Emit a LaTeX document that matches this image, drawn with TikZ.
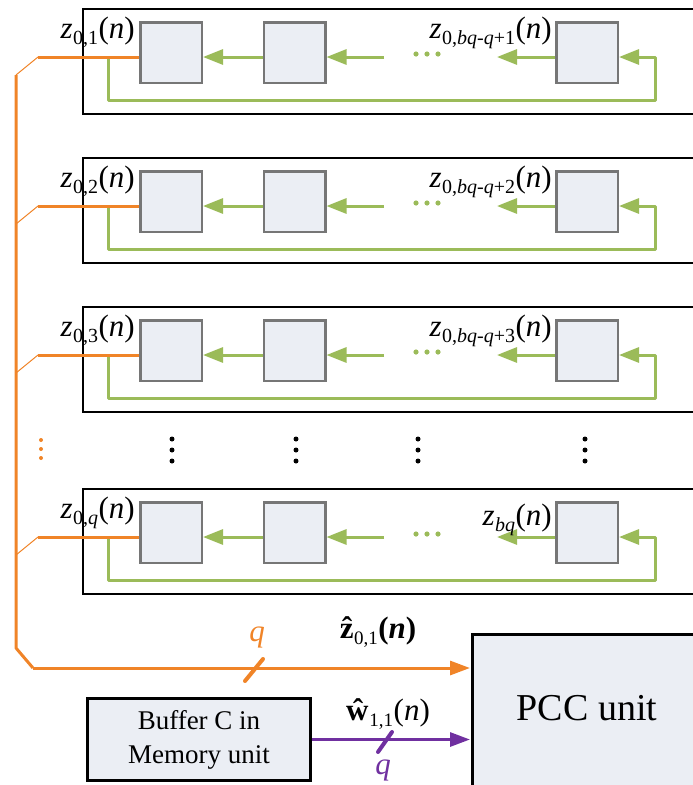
\documentclass[tikz,border=0pt]{standalone}
\usepackage{fontspec}
\setmainfont{Liberation Serif}
\usetikzlibrary{arrows.meta}

\definecolor{busorange}{RGB}{240,132,40}
\definecolor{loopgreen}{RGB}{155,187,89}
\definecolor{wpurple}{RGB}{112,48,160}
\definecolor{cellfill}{RGB}{235,238,244}
\definecolor{cellgray}{RGB}{118,118,118}

\tikzset{
  cell/.style={draw=cellgray, line width=2.5pt, fill=cellfill,
    minimum width=61.5pt, minimum height=60.5pt, inner sep=0pt},
  frame/.style={draw=black, line width=1.1pt},
  gline/.style={draw=loopgreen, line width=3pt, line join=round},
  garrow/.style={gline, -{Triangle[length=20pt,width=15pt]}},
  obus/.style={draw=busorange, line width=3pt, line join=round},
  otap/.style={draw=busorange, line width=1pt},
  oarrow/.style={obus, -{Triangle[length=20pt,width=14pt]}},
  parrow/.style={draw=wpurple, line width=3pt, -{Triangle[length=20pt,width=14pt]}},
  unitbox/.style={draw=black, line width=3pt, fill=cellfill, inner sep=0pt},
  lab/.style={inner sep=0pt, font=\fontsize{31}{33}\selectfont},
}

% z with a subscript and (n)
\newcommand\zlab[1]{\textit{z}\kern0.5pt\raisebox{-6pt}{\fontsize{20}{20}\selectfont #1}\kern0.5pt(\textit{n})}

% one register row: #1 id, #2 top of frame, #3 left subscript,
% #4 right subscript, #5 baseline offset of the right label
\newcommand\cellrow[5]{%
  \draw[frame] (83,#2) rectangle (720,#2+105);
  \coordinate (s#1) at (0,#2+48);
  \node[cell] (c#1a) at (171,#2+43.5) {};
  \node[cell] (c#1b) at (294.5,#2+43.5) {};
  \node[cell] (c#1c) at (587,#2+43.5) {};
  \coordinate (g#1) at (384,#2+48);
  % shift arrows
  \draw[garrow] (c#1b.west |- s#1) -- (c#1a.east |- s#1);
  \draw[garrow] (g#1) -- (c#1b.east |- s#1);
  \draw[garrow] (c#1c.west |- s#1) -- (497,#2+48);
  \foreach \dx in {416,427,438} \fill[loopgreen] (\dx,#2+45) circle (2.6pt);
  % feedback loop
  \coordinate (fb#1) at (108,#2+48);
  \draw[garrow] (fb#1) -- (108,#2+91) -- (655,#2+91) -- (655,#2+48) -- (c#1c.east |- s#1);
  % tap to the bus
  \coordinate (t#1) at (38,#2+48);
  \coordinate (bus#1) at (16,#2+66);
  \draw[obus] (t#1) -- (c#1a.west |- s#1);
  \draw[otap] (t#1) -- (bus#1);
  % labels
  \node[lab, anchor=base east] (la#1) at (135,#2+29) {\zlab{#3}};
  \node[lab, anchor=base east] (lc#1) at (552,#2+#5) {\zlab{#4}};
}

\begin{document}
\begin{tikzpicture}[x=1pt,y=-1pt]
\useasboundingbox (0,0) rectangle (693,785);
\clip (0,0) rectangle (693,785);

\cellrow{1}{9}{0,1}{0,\textit{bq}-\textit{q}+1}{29}
\cellrow{2}{158}{0,2}{0,\textit{bq}-\textit{q}+2}{29}
\cellrow{3}{307}{0,3}{0,\textit{bq}-\textit{q}+3}{29}
\cellrow{4}{489}{0,\textit{q}}{\textit{bq}}{36}

% vertical ellipses between rows
\foreach \y in {440,449,458} \fill[busorange] (41,\y) circle (2pt);
\foreach \x in {172,296,418,585}
  \foreach \y in {439,450,461} \fill[black] (\x,\y) circle (2.5pt);

% units
\node[unitbox, anchor=north west, minimum width=260pt, minimum height=200pt] (pcc) at (471,633) {};
\node[font=\fontsize{38}{40}\selectfont, inner sep=0pt] (pcclab) at (587,708) {PCC unit};
\node[unitbox, minimum width=223pt, minimum height=82pt, align=center,
      font=\fontsize{27}{34}\selectfont] (buf) at (199,739.5) {Buffer C in\\Memory unit};

% orange bus into the PCC unit
\coordinate (zin) at (0,668);
\coordinate (busbot) at (16,648);
\coordinate (buscorner) at (33,668);
\draw[obus] (bus1) -- (busbot) -- (buscorner);
\draw[oarrow, shorten >=1pt] (buscorner) -- (pcc.west |- zin);
\coordinate (zs) at (254,670);
\draw[busorange, line width=4pt, line cap=round] ([shift={(-9,11)}]zs) -- ([shift={(9,-11)}]zs);
\node[lab, text=busorange] (qz) at (257,637) {\textit{q}};
\node[inner sep=0pt, font=\fontsize{31}{33}\selectfont] (zlab) at (378,632)
  {\textbf{\^{z}}\kern0.5pt\raisebox{-6pt}{\fontsize{19}{19}\selectfont 0,1}\kern0.5pt\textbf{(\textit{n})}};

% purple input from the buffer
\draw[parrow, shorten >=1pt] (buf.east) -- (pcc.west |- buf.east);
\coordinate (ws) at (385,742);
\draw[wpurple, line width=4pt, line cap=round] ([shift={(-7,10)}]ws) -- ([shift={(7,-10)}]ws);
\node[lab, text=wpurple] (qw) at (383,770) {\textit{q}};
\node[inner sep=0pt, font=\fontsize{31}{33}\selectfont] (wlab) at (388,714)
  {\textbf{\^{w}}\kern1pt\raisebox{-6pt}{\fontsize{19}{19}\selectfont 1,1}\kern0.5pt(\textit{n})};
\end{tikzpicture}
\end{document}
